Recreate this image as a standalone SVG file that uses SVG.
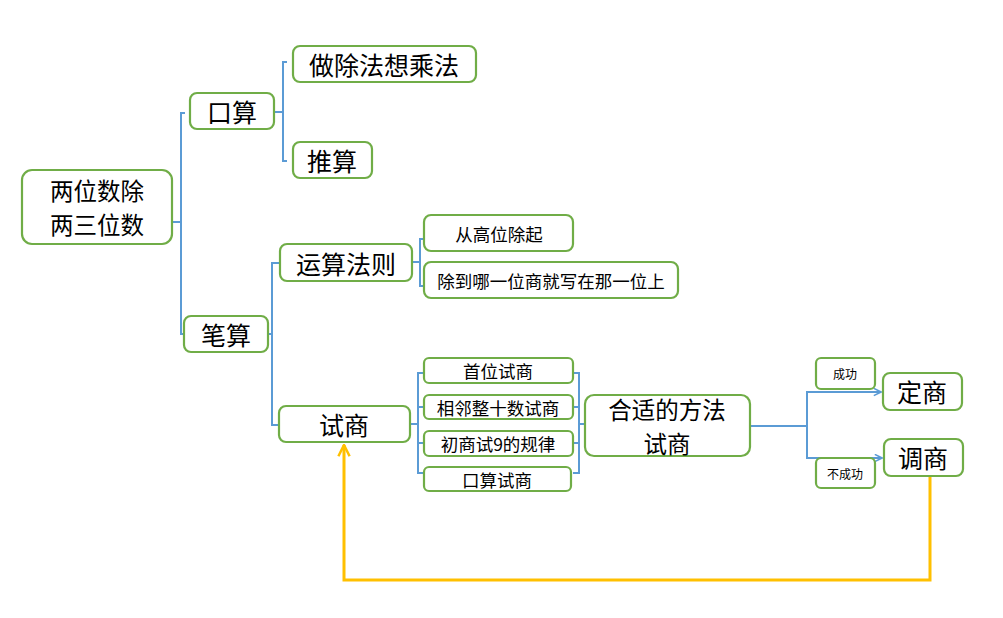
<svg xmlns="http://www.w3.org/2000/svg" width="1003" height="618" viewBox="0 0 1003 618">
<style>
.box{fill:#fff;stroke:#70AD47;stroke-width:2.2}
.t{font-family:"Noto Sans CJK SC","Liberation Sans",sans-serif;fill:#000;text-anchor:middle;dominant-baseline:central}
.b{font-size:25px}
.b2{font-size:23.5px}
.m{font-size:17.5px}
.s{font-size:12px}
.c{fill:none;stroke:#5B9BD5;stroke-width:2}
.y{fill:none;stroke:#FFC000;stroke-width:3}
</style>
<defs>
<marker id="ab" viewBox="0 0 10 10" refX="9" refY="5" markerWidth="9" markerHeight="9" orient="auto" markerUnits="userSpaceOnUse">
<path d="M1,1 L9,5 L1,9" fill="none" stroke="#5B9BD5" stroke-width="1.8"/>
</marker>
<marker id="ay" viewBox="0 0 10 10" refX="9" refY="5" markerWidth="14" markerHeight="14" orient="auto" markerUnits="userSpaceOnUse">
<path d="M1,1 L9,5 L1,9" fill="none" stroke="#FFC000" stroke-width="1.8"/>
</marker>
</defs>
<rect width="1003" height="618" fill="#fff"/>
<g id="connectors">
<path class="c" d="M169,222 H181 M185,113 H181 V334 H184"/>
<path class="c" d="M272,112 H283 M287,62 H283 V161 H287"/>
<path class="c" d="M268,334 H272 M279,263 H272 V425 H279"/>
<path class="c" d="M408,262 H420 M424,239 H420 V286 H424"/>
<path class="c" d="M406,424 H418 M424,373 H418 V473 H424 M418,407 H424 M418,443 H424"/>
<path class="c" d="M573,373 H579 V473 H573 M573,407 H579 M573,443 H579 M579,424 H586"/>
<path class="c" d="M750,426 H807 V392 H881" marker-end="url(#ab)"/>
<path class="c" d="M807,426 V458 H882" marker-end="url(#ab)"/>
<path class="y" d="M930,476 V580 H344 V445" marker-end="url(#ay)"/>
</g>
<g id="n-root"><rect class="box" x="22" y="170" width="150" height="74" rx="10"/><text class="t b2" x="97" y="190">两位数除</text><text class="t b2" x="97" y="224">两三位数</text></g>
<g id="n-koushuan"><rect class="box" x="190" y="93" width="84" height="36" rx="7"/><text class="t b" x="232" y="111">口算</text></g>
<g id="n-zuochu"><rect class="box" x="293" y="46" width="183" height="36" rx="7"/><text class="t b" x="384" y="64">做除法想乘法</text></g>
<g id="n-tuisuan"><rect class="box" x="293" y="142" width="79" height="36" rx="7"/><text class="t b" x="332" y="160">推算</text></g>
<g id="n-bisuan"><rect class="box" x="184" y="316" width="84" height="36" rx="7"/><text class="t b" x="226" y="334">笔算</text></g>
<g id="n-yunsuan"><rect class="box" x="280" y="244" width="132" height="37" rx="7"/><text class="t b" x="346" y="263">运算法则</text></g>
<g id="n-conggao"><rect class="box" x="424" y="215" width="149" height="36" rx="7"/><text class="t m" x="499" y="233">从高位除起</text></g>
<g id="n-chudao"><rect class="box" x="424" y="262" width="254" height="36" rx="7"/><text class="t m" x="551" y="280">除到哪一位商就写在那一位上</text></g>
<g id="n-shishang"><rect class="box" x="279" y="406" width="131" height="36" rx="7"/><text class="t b" x="344" y="424">试商</text></g>
<g id="n-shouwei"><rect class="box" x="424" y="358" width="149" height="25" rx="5"/><text class="t m" x="498" y="370">首位试商</text></g>
<g id="n-xianglin"><rect class="box" x="424" y="395" width="149" height="24" rx="5"/><text class="t m" x="498" y="407">相邻整十数试商</text></g>
<g id="n-chushang"><rect class="box" x="424" y="431" width="149" height="25" rx="5"/><text class="t m" x="498" y="443">初商试9的规律</text></g>
<g id="n-kousuanshi"><rect class="box" x="424" y="467" width="147" height="24" rx="5"/><text class="t m" x="497" y="479">口算试商</text></g>
<g id="n-heshi"><rect class="box" x="585" y="395" width="165" height="61" rx="9"/><text class="t b2" x="667" y="409">合适的方法</text><text class="t b2" x="667" y="443">试商</text></g>
<g id="n-chenggong"><rect class="box" x="816" y="358" width="59" height="31" rx="5"/><text class="t s" x="845" y="373">成功</text></g>
<g id="n-buchenggong"><rect class="box" x="816" y="458" width="59" height="30" rx="5"/><text class="t s" x="845" y="473">不成功</text></g>
<g id="n-dingshang"><rect class="box" x="883" y="373" width="79" height="37" rx="7"/><text class="t b" x="922" y="391">定商</text></g>
<g id="n-tiaoshang"><rect class="box" x="884" y="439" width="79" height="37" rx="7"/><text class="t b" x="923" y="457">调商</text></g>
</svg>
